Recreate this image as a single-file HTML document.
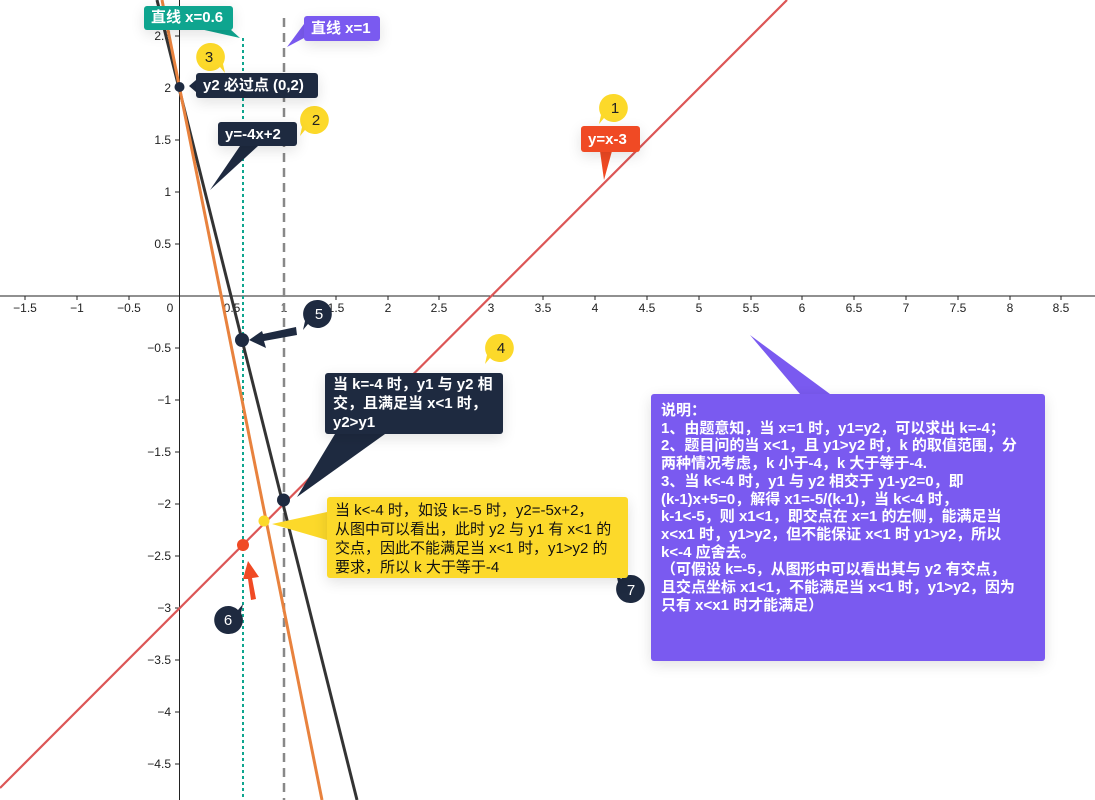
<!DOCTYPE html>
<html><head><meta charset="utf-8"><style>
html,body{margin:0;padding:0;background:#fff;}
body{width:1095px;height:800px;overflow:hidden;position:relative;font-family:"Liberation Sans","Noto Sans CJK SC",sans-serif;}
svg{position:absolute;left:0;top:0;}
.b{position:absolute;border-radius:3px;color:#fff;font-weight:bold;font-size:15px;line-height:19px;box-sizing:border-box;box-shadow:0 4px 14px rgba(0,0,0,0.12);white-space:nowrap;}
</style></head><body>
<svg width="1095" height="800" viewBox="0 0 1095 800" font-family="Liberation Sans, Noto Sans CJK SC, sans-serif">
<line x1="0" y1="296" x2="1095" y2="296" stroke="#222" stroke-width="1"/>
<line x1="179.5" y1="0" x2="179.5" y2="800" stroke="#222" stroke-width="1"/>
<g font-size="12" fill="#222" text-anchor="middle">
<text x="25" y="312">−1.5</text><text x="77" y="312">−1</text><text x="129" y="312">−0.5</text><text x="170" y="312">0</text>
<text x="232" y="312">0.5</text><text x="284" y="312">1</text><text x="336" y="312">1.5</text><text x="388" y="312">2</text>
<text x="439" y="312">2.5</text><text x="491" y="312">3</text><text x="543" y="312">3.5</text><text x="595" y="312">4</text>
<text x="647" y="312">4.5</text><text x="699" y="312">5</text><text x="751" y="312">5.5</text><text x="802" y="312">6</text>
<text x="854" y="312">6.5</text><text x="906" y="312">7</text><text x="958" y="312">7.5</text><text x="1010" y="312">8</text><text x="1061" y="312">8.5</text>
</g>
<g stroke="#222">
<line x1="25" y1="296" x2="25" y2="300"/><line x1="77" y1="296" x2="77" y2="300"/><line x1="129" y1="296" x2="129" y2="300"/>
<line x1="232" y1="296" x2="232" y2="300"/><line x1="336" y1="296" x2="336" y2="300"/><line x1="388" y1="296" x2="388" y2="300"/>
<line x1="439" y1="296" x2="439" y2="300"/><line x1="543" y1="296" x2="543" y2="300"/><line x1="595" y1="296" x2="595" y2="300"/>
<line x1="647" y1="296" x2="647" y2="300"/><line x1="699" y1="296" x2="699" y2="300"/><line x1="751" y1="296" x2="751" y2="300"/>
<line x1="802" y1="296" x2="802" y2="300"/><line x1="854" y1="296" x2="854" y2="300"/><line x1="906" y1="296" x2="906" y2="300"/>
<line x1="958" y1="296" x2="958" y2="300"/><line x1="1010" y1="296" x2="1010" y2="300"/><line x1="1061" y1="296" x2="1061" y2="300"/>
<line x1="175" y1="36" x2="179.5" y2="36"/><line x1="175" y1="88" x2="179.5" y2="88"/><line x1="175" y1="140" x2="179.5" y2="140"/>
<line x1="175" y1="192" x2="179.5" y2="192"/><line x1="175" y1="244" x2="179.5" y2="244"/><line x1="175" y1="348" x2="179.5" y2="348"/>
<line x1="175" y1="400" x2="179.5" y2="400"/><line x1="175" y1="452" x2="179.5" y2="452"/><line x1="175" y1="504" x2="179.5" y2="504"/>
<line x1="175" y1="556" x2="179.5" y2="556"/><line x1="175" y1="608" x2="179.5" y2="608"/><line x1="175" y1="660" x2="179.5" y2="660"/>
<line x1="175" y1="712" x2="179.5" y2="712"/><line x1="175" y1="764" x2="179.5" y2="764"/>
</g>
<g font-size="12" fill="#222" text-anchor="end">
<text x="171" y="40">2.5</text><text x="171" y="92">2</text><text x="171" y="144">1.5</text><text x="171" y="196">1</text><text x="171" y="248">0.5</text>
<text x="171" y="352">−0.5</text><text x="171" y="404">−1</text><text x="171" y="456">−1.5</text><text x="171" y="508">−2</text><text x="171" y="560">−2.5</text>
<text x="171" y="612">−3</text><text x="171" y="664">−3.5</text><text x="171" y="716">−4</text><text x="171" y="768">−4.5</text>
</g>
<line x1="243" y1="38" x2="243" y2="800" stroke="#0ea58f" stroke-width="2" stroke-dasharray="3,3"/>
<line x1="284" y1="18" x2="284" y2="800" stroke="#888" stroke-width="2.5" stroke-dasharray="9,6"/>
<line x1="0" y1="788" x2="787" y2="0" stroke="#dc5656" stroke-width="2.2"/>
<line x1="157" y1="0" x2="357" y2="800" stroke="#333" stroke-width="3"/>
<line x1="162" y1="0" x2="322" y2="800" stroke="#e8823e" stroke-width="3"/>
<polygon points="200,29 230,29 240,38" fill="#0ea58f"/>
<polygon points="304,24 304,38 287,47" fill="#7a5af0"/>
<polygon points="196,80 196,92 189,86" fill="#1e2a40"/>
<polygon points="240,146 258,146 210,190" fill="#1e2a40"/>
<polygon points="600,151 612,151 604,180" fill="#f04a24"/>
<polygon points="335,434 385,434 297,497" fill="#1e2a40"/>
<polygon points="327,512 327,540 272,524" fill="#fcd92a"/>
<polygon points="750,335 800,394 830,394" fill="#7a5af0"/>
<polygon points="296,327 297,335 264,341 266,348 249,340 262,331 263,334" fill="#1e2a40"/>
<polygon points="251,600 256,599 252,578 259,577 248,561 243,579 248,579" fill="#f04a24"/>
<circle cx="179.5" cy="87" r="5" fill="#1e2a40"/>
<circle cx="242" cy="340" r="7" fill="#1e2a40"/>
<circle cx="283.5" cy="500" r="6.5" fill="#1e2a40"/>
<circle cx="264" cy="521" r="5.5" fill="#fcd92a"/>
<circle cx="243" cy="545" r="6" fill="#f04a24"/>
<g font-size="15" text-anchor="middle">
<path d="M614,94 a14,14 0 1,1 -10,24 l-5,6 l2,-9 a14,14 0 0,1 13,-21z" fill="#fcd92a"/><text x="615" y="113" fill="#222">1</text>
<path d="M315,106 a14,14 0 1,1 -10,24 l-5,6 l2,-9 a14,14 0 0,1 13,-21z" fill="#fcd92a"/><text x="316" y="125" fill="#222">2</text>
<path d="M210,43 a14,14 0 1,0 10,24 l5,6 l-2,-9 a14,14 0 0,0 -13,-21z" fill="#fcd92a"/><text x="209" y="62" fill="#222">3</text>
<path d="M500,334 a14,14 0 1,1 -10,24 l-5,6 l2,-9 a14,14 0 0,1 13,-21z" fill="#fcd92a"/><text x="501" y="353" fill="#222">4</text>
<path d="M318,300 a14,14 0 1,1 -10,24 l-5,6 l2,-9 a14,14 0 0,1 13,-21z" fill="#1e2a40"/><text x="319" y="319" fill="#fff">5</text>
<path d="M228,634 a14,14 0 1,1 10,-24 l5,-6 l-2,9 a14,14 0 0,1 -13,21z" fill="#1e2a40"/><text x="228" y="625" fill="#fff">6</text>
<path d="M631,603 a14,14 0 1,0 -10,-24 l-5,-6 l2,9 a14,14 0 0,0 13,21z" fill="#1e2a40"/><text x="631" y="595" fill="#fff">7</text>
</g>
</svg>
<div class="b" style="left:144px;top:6px;width:89px;height:24px;background:#0ea58f;padding:2px 7px;">直线 x=0.6</div>
<div class="b" style="left:304px;top:16px;width:76px;height:25px;background:#7a5af0;padding:3px 7px;">直线 x=1</div>
<div class="b" style="left:196px;top:73px;width:122px;height:25px;background:#1e2a40;padding:3px 7px;">y2 必过点 (0,2)</div>
<div class="b" style="left:218px;top:122px;width:79px;height:24px;background:#1e2a40;padding:3px 7px;">y=-4x+2</div>
<div class="b" style="left:581px;top:126px;width:59px;height:26px;background:#f04a24;padding:4px 7px;">y=x-3</div>
<div class="b" style="left:325px;top:373px;width:178px;height:61px;background:#1e2a40;padding:2px 8px;line-height:19px;">当 k=-4 时，y1 与 y2 相<br>交，且满足当 x&lt;1 时，<br>y2&gt;y1</div>
<div class="b" style="left:327px;top:497px;width:301px;height:81px;background:#fcd92a;color:#111;font-weight:normal;padding:4px 8px;line-height:19px;">当 k&lt;-4 时，如设 k=-5 时，y2=-5x+2，<br>从图中可以看出，此时 y2 与 y1 有 x&lt;1 的<br>交点，因此不能满足当 x&lt;1 时，y1&gt;y2 的<br>要求，所以 k 大于等于-4</div>
<div class="b" style="left:651px;top:394px;width:394px;height:267px;background:#7a5af0;padding:8px 10px;line-height:17.7px;font-size:15px;">说明：<br>1、由题意知，当 x=1 时，y1=y2，可以求出 k=-4；<br>2、题目问的当 x&lt;1，且 y1&gt;y2 时，k 的取值范围，分<br>两种情况考虑，k 小于-4，k 大于等于-4.<br>3、当 k&lt;-4 时，y1 与 y2 相交于 y1-y2=0，即<br>(k-1)x+5=0，解得 x1=-5/(k-1)，当 k&lt;-4 时，<br>k-1&lt;-5，则 x1&lt;1，即交点在 x=1 的左侧，能满足当<br>x&lt;x1 时，y1&gt;y2，但不能保证 x&lt;1 时 y1&gt;y2，所以<br>k&lt;-4 应舍去。<br>（可假设 k=-5，从图形中可以看出其与 y2 有交点，<br>且交点坐标 x1&lt;1，不能满足当 x&lt;1 时，y1&gt;y2，因为<br>只有 x&lt;x1 时才能满足）</div>
</body></html>
